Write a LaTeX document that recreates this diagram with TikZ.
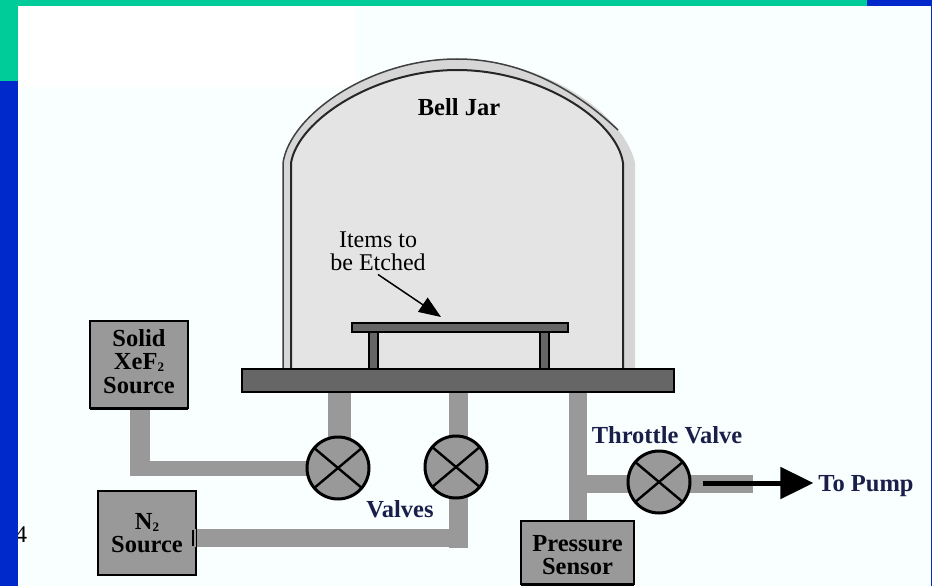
\documentclass[tikz,border=0pt]{standalone}
\usepackage{fontspec}
\setmainfont{Liberation Serif}
\usetikzlibrary{arrows.meta,backgrounds}
\definecolor{pagebg}{HTML}{F9FFFF}
\definecolor{barblue}{HTML}{0029CC}
\definecolor{bargreen}{HTML}{00CC99}
\definecolor{pipegray}{HTML}{999999}
\definecolor{platedark}{HTML}{666666}
\definecolor{jarfill}{HTML}{E4E4E4}
\definecolor{jarwall}{HTML}{D6D6D6}
\definecolor{labelnavy}{HTML}{1A1F4A}
\newcommand{\subtwo}{\raisebox{-2pt}{\fontsize{13}{13}\selectfont 2}}
\tikzset{
  lab/.style={font=\fontsize{24}{23}\selectfont, align=center, inner sep=0pt, outer sep=0pt},
  boldlab/.style={lab, font=\fontsize{24.5}{23.5}\selectfont\bfseries},
  boxnode/.style={draw=black, line width=1.5pt, fill=pipegray, minimum width=#1, inner sep=0pt, outer sep=0pt},
  platenode/.style={draw=black, line width=1.2pt, fill=platedark, inner sep=0pt, outer sep=0pt},
  valvenode/.style={circle, draw=black, line width=3pt, fill=pipegray, minimum size=62pt, inner sep=0pt, outer sep=0pt,
    path picture={\draw[black, line width=2.4pt]
      (path picture bounding box.140) -- (path picture bounding box.-40)
      (path picture bounding box.40) -- (path picture bounding box.-140);}},
  pipe/.style={draw=pipegray, line width=#1, line cap=rect},
  pipeb/.style={draw=pipegray, line width=#1, line cap=butt},
}
\begin{document}
\begin{tikzpicture}[x=1pt,y=-1pt]
\useasboundingbox (0,0) rectangle (932,586);
% bell jar
\fill[jarwall] (283,369) -- (283,163) .. controls (290,115) and (370,59) .. (457,59)
  .. controls (545,59) and (625,115) .. (635,163) -- (635,369) -- cycle;
\draw[black!75, line width=1.5pt] (283,369) -- (283,163) .. controls (290,115) and (370,59) .. (457,59)
  .. controls (510,59) and (565,80) .. (618,130);
\fill[jarfill] (291,369) -- (291,163) .. controls (298,120) and (375,70) .. (457,70)
  .. controls (540,70) and (617,120) .. (623,163) -- (623,369) -- cycle;
\draw[black!85, line width=2pt] (291,369) -- (291,163) .. controls (298,120) and (375,70) .. (457,70)
  .. controls (540,70) and (617,120) .. (623,163) -- (623,369);
% labels in the jar
\node[boldlab] (bell) at (459,107) {Bell Jar};
\node[lab] (items) at (378,251) {Items to\\be Etched};
% table and plate
\node[platenode, minimum width=9pt, minimum height=38pt] (legl) at (373.5,350) {};
\node[platenode, minimum width=9pt, minimum height=38pt] (legr) at (544.5,350) {};
\node[platenode, minimum width=216pt, minimum height=9pt] (tabletop) at (460,327.5) {};
\node[platenode, minimum width=432pt, minimum height=23pt] (base) at (458,380.5) {};
\coordinate (itemtip) at (441,317);
\draw[black, line width=1.5pt, -{Triangle[length=22pt,width=17pt]}] ([yshift=-4pt]items.south) -- (itemtip);
% boxes
\node[boxnode=98pt, minimum height=87pt] (solid) at (139,364.5) {};
\node[boldlab] (solidtext) at (139,361.5) {Solid\\XeF\subtwo\\Source};
\draw[black, line width=3pt] (solid.south west) -- (solid.south east);
\node[boxnode=98pt, minimum height=84pt] (ntwo) at (147,533) {};
\node[boldlab] (ntwotext) at (147,533) {N\subtwo\\Source};
\node[boxnode=113pt, minimum height=63pt] (press) at (577.5,552.5) {};
\node[boldlab] (presstext) at (577.5,555) {Pressure\\Sensor};
\draw[black, line width=3pt] (press.south west) -- (press.south east);
% valves
\node[valvenode] (vone) at (338,468) {};
\node[valvenode] (vtwo) at (456,467) {};
\node[valvenode] (vthr) at (659,482) {};
% corners and ends of the pipes
\coordinate (csolid) at (140,468.5);
\coordinate (cntwo) at (458.5,538);
\coordinate (cthr) at (578,484);
\coordinate (pipeend) at (753,484);
\begin{scope}[on background layer]
  \fill[pagebg] (0,0) rectangle (932,586);
  \fill[white] (18,6) rectangle (355,87);
  \draw[pipeb=20pt] (solid.south -| csolid) -- ([yshift=-7.75pt]csolid);
  \draw[pipe=15.5pt] ([xshift=2pt]csolid) -- (vone.center |- csolid);
  \draw[pipe=23pt] ([xshift=1.5pt]vone.center) -- ([xshift=1.5pt]vone.center |- base.south);
  \draw[pipe=19pt] (cntwo |- base.south) -- (cntwo);
  \draw[pipe=18pt] (ntwo.center |- cntwo) -- (cntwo);
  \draw[pipe=18pt] (cthr |- base.south) -- (cthr |- press.north);
  \draw[pipe=18pt] (cthr) -- (vthr.center |- cthr);
  \draw[pipeb=18pt] (vthr.center |- pipeend) -- (pipeend);
\end{scope}
% N2 pipe mouth over the box edge
\coordinate (mouth) at (193,538);
\draw[pipeb=18pt] (mouth) -- (ntwo.east |- mouth);
\draw[black, line width=1.4pt] ([yshift=8pt]mouth) -- ([yshift=-8pt]mouth);
% outer labels
\node[boldlab, text=labelnavy] (vlab) at (400,509) {Valves};
\node[boldlab, text=labelnavy] (tlab) at (667,435) {Throttle Valve};
\node[boldlab, text=labelnavy] (pump) at (866,486) {To Pump};
\coordinate (arrowstart) at (703,483);
\draw[black, line width=5pt, -{Triangle[length=33pt,width=31pt]}, shorten >=5pt] (arrowstart) -- (pump.west |- arrowstart);
% page number and frame
\node[lab] (pageno) at (21,535) {4};
\fill[barblue] (0,81) rectangle (18,586);
\fill[bargreen] (0,0) rectangle (18,81);
\fill[bargreen] (0,0) rectangle (867,6);
\fill[barblue] (867,0) rectangle (932,6);
\fill[barblue] (931,0) rectangle (932,586);
\end{tikzpicture}
\end{document}
